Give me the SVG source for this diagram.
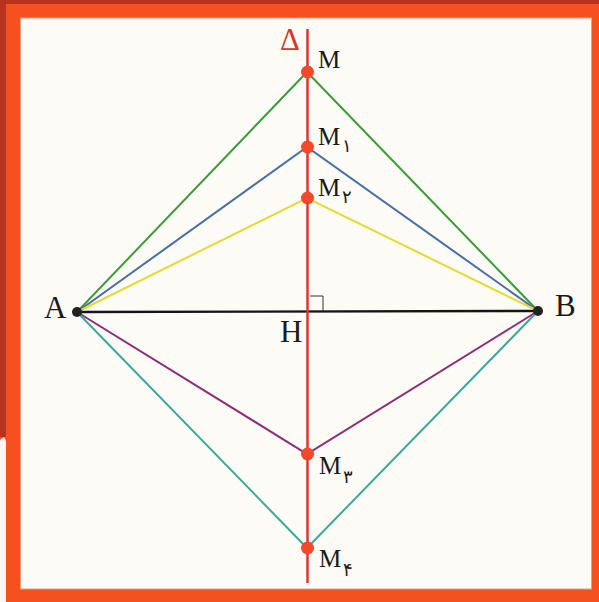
<svg xmlns="http://www.w3.org/2000/svg" width="599" height="602" viewBox="0 0 599 602">
  <style>
    .lbl { font-family: "Liberation Serif", "Times New Roman", serif; fill: #1a1a1a; }
    .big { font-size: 31px; }
    .m { font-size: 25px; }
    .sub { font-family: "DejaVu Sans", "Noto Sans", sans-serif; font-size: 18px; fill: #1a1a1a; }
    .seg { fill: none; stroke-width: 2; stroke-linejoin: miter; }
    .rdot { fill: #f2492a; }
    .bdot { fill: #222; }
  </style>
  <!-- frame -->
  <rect x="0" y="0" width="599" height="602" fill="#f4511f"/>
  <rect x="0" y="0" width="599" height="4" fill="#b9321f"/>
  <rect x="0" y="0" width="6" height="437" fill="#b9321f"/>
  <path d="M0 440 L4 437 L6 441 L6 602 L0 602 Z" fill="#fbf7ee"/>
  <rect x="20.5" y="18" width="571" height="571" fill="#fdfbf6" stroke="#d9a58a" stroke-width="1"/>

  <!-- connectors -->
  <g id="connectors">
    <polyline class="seg" stroke="#3d9a3a" points="77,312 307,72 538,311"/>
    <polyline class="seg" stroke="#4a6da6" points="77,312 307,147 538,311"/>
    <polyline class="seg" stroke="#e6d934" points="77,312 307,198 538,311"/>
    <polyline class="seg" stroke="#8a2e78" points="77,312 307,454 538,311"/>
    <polyline class="seg" stroke="#3ba89a" points="77,312 307,548 538,311"/>
    <line x1="77" y1="312" x2="538" y2="311" stroke="#151515" stroke-width="2.4"/>
  </g>

  <!-- perpendicular bisector Delta -->
  <g id="delta">
    <line x1="307.5" y1="29" x2="307.5" y2="583" stroke="#d63a2c" stroke-width="2.5"/>
    <text x="280" y="50" font-family="'Liberation Serif', 'DejaVu Serif', serif" font-size="31" fill="#d63a2c">Δ</text>
  </g>

  <g id="H">
    <polyline points="310,296 323,296 323,311" fill="none" stroke="#333" stroke-width="1"/>
    <text class="lbl big" x="280" y="342">H</text>
  </g>

  <g id="A">
    <circle class="bdot" cx="77" cy="312" r="5"/>
    <text class="lbl big" x="44" y="318">A</text>
  </g>
  <g id="B">
    <circle class="bdot" cx="538" cy="311" r="5"/>
    <text class="lbl big" x="555" y="316">B</text>
  </g>

  <g id="M">
    <circle class="rdot" cx="307.5" cy="72" r="6.5"/>
    <text class="lbl m" x="318" y="68">M</text>
  </g>
  <g id="M1">
    <circle class="rdot" cx="307.5" cy="147" r="6.5"/>
    <text class="lbl m" x="318" y="145">M</text>
    <text class="sub" x="342" y="152">۱</text>
  </g>
  <g id="M2">
    <circle class="rdot" cx="307.5" cy="198" r="6.5"/>
    <text class="lbl m" x="318" y="196">M</text>
    <text class="sub" x="342" y="203">۲</text>
  </g>
  <g id="M3">
    <circle class="rdot" cx="307.5" cy="454" r="6.5"/>
    <text class="lbl m" x="319" y="474">M</text>
    <text class="sub" x="343" y="483">۳</text>
  </g>
  <g id="M4">
    <circle class="rdot" cx="307.5" cy="548" r="6.5"/>
    <text class="lbl m" x="319" y="567">M</text>
    <text class="sub" x="343" y="576">۴</text>
  </g>
</svg>
